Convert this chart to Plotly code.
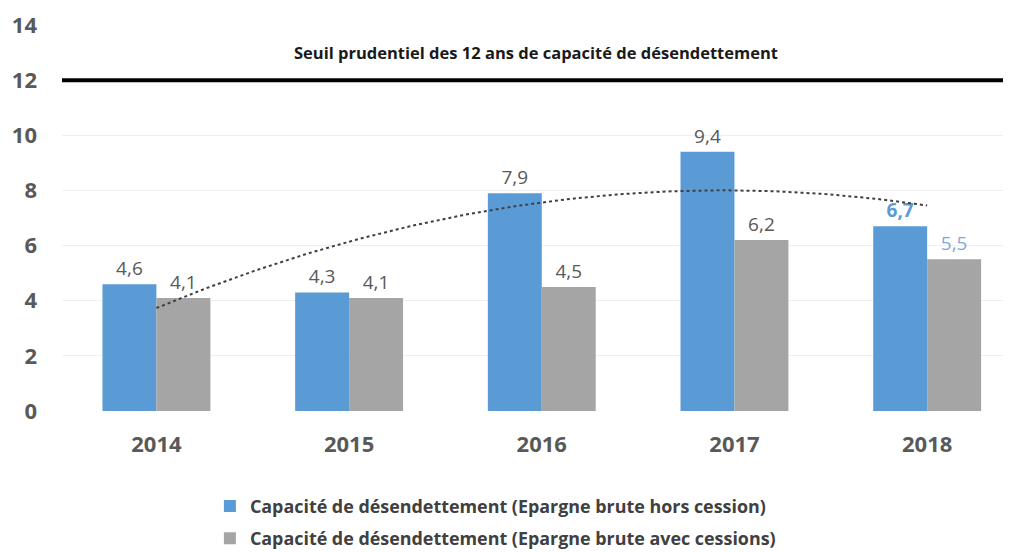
import numpy as np
import plotly.graph_objects as go

years = ["2014", "2015", "2016", "2017", "2018"]
hors_cession = [4.6, 4.3, 7.9, 9.4, 6.7]
avec_cessions = [4.1, 4.1, 4.5, 6.2, 5.5]
seuil = 12

blue = "#5b9bd5"
grey = "#a5a5a5"
txt = "#595959"
font = "Open Sans"

x = np.arange(len(years))


def fmt(v):
    return f"{v:.1f}".replace(".", ",")


blue_text = [fmt(v) for v in hors_cession]
blue_text[-1] = "<b>" + blue_text[-1] + "</b>"
grey_text = [fmt(v) for v in avec_cessions]
blue_colors = [txt] * 4 + [blue]
grey_colors = [txt] * 4 + ["#7fa9da"]

# polynomial (order 2) trend line of the first series
coef = np.polyfit(x, hors_cession, 2)
xt = np.linspace(0, len(years) - 1, 120)
yt = np.polyval(coef, xt)

fig = go.Figure()

fig.add_trace(go.Bar(
    x=x, y=hors_cession, width=0.28, offset=-0.28,
    marker=dict(color=blue, line=dict(width=0)),
    name="<b>Capacité de désendettement (Epargne brute hors cession)</b>",
    legendgroup="a",
    text=blue_text, textposition="outside", cliponaxis=False,
    textfont=dict(family=font, size=19, color=blue_colors),
))
fig.add_trace(go.Bar(
    x=x, y=avec_cessions, width=0.28, offset=0,
    marker=dict(color=grey, line=dict(width=0)),
    name="<b>Capacité de désendettement (Epargne brute avec cessions)</b>",
    legendgroup="b",
    text=grey_text, textposition="outside", cliponaxis=False,
    textfont=dict(family=font, size=19, color=grey_colors),
))
fig.add_trace(go.Scatter(
    x=xt, y=yt, mode="lines", showlegend=False,
    line=dict(color="#404040", width=2, dash="dot"),
    hoverinfo="skip",
))

fig.add_shape(type="line", xref="paper", x0=0, x1=1, yref="y", y0=seuil, y1=seuil,
              line=dict(color="black", width=4))
fig.add_annotation(text="<b>Seuil prudentiel des 12 ans de capacité de désendettement</b>",
                   xref="paper", x=0.5, yref="y", y=13, showarrow=False,
                   font=dict(family=font, size=16.5, color="#1a1a1a"))

# the page shows the figure with an 8 px offset, so size and margins are reduced by it
fig.update_layout(
    width=1003, height=544,
    margin=dict(l=54, r=1, t=14, b=141),
    plot_bgcolor="white", paper_bgcolor="white",
    barmode="overlay",
    font=dict(family=font, color=txt),
    showlegend=True,
    legend=dict(orientation="v", x=0.156, xanchor="left",
                yref="container", y=0.118, yanchor="top",
                font=dict(family=font, size=17.9, color="#404040"),
                itemclick=False, tracegroupgap=6),
)
fig.update_xaxes(
    range=[-0.49, 4.43], tickmode="array", tickvals=list(x),
    ticktext=["<b>" + y + "</b>" for y in years],
    tickfont=dict(family=font, size=22, color=txt),
    showgrid=False, zeroline=False, showline=False, ticks="",
    ticklabelstandoff=18,
)
fig.update_yaxes(
    range=[0, 14], dtick=2, tickfont=dict(family=font, size=22, color=txt),
    tickprefix="<b>", ticksuffix="</b>", ticklabeloverflow="allow",
    showgrid=True, gridcolor="#efefef", gridwidth=1, zeroline=False,
    showline=False, ticks="", ticklabelstandoff=24,
)

fig.write_html("out.html")
